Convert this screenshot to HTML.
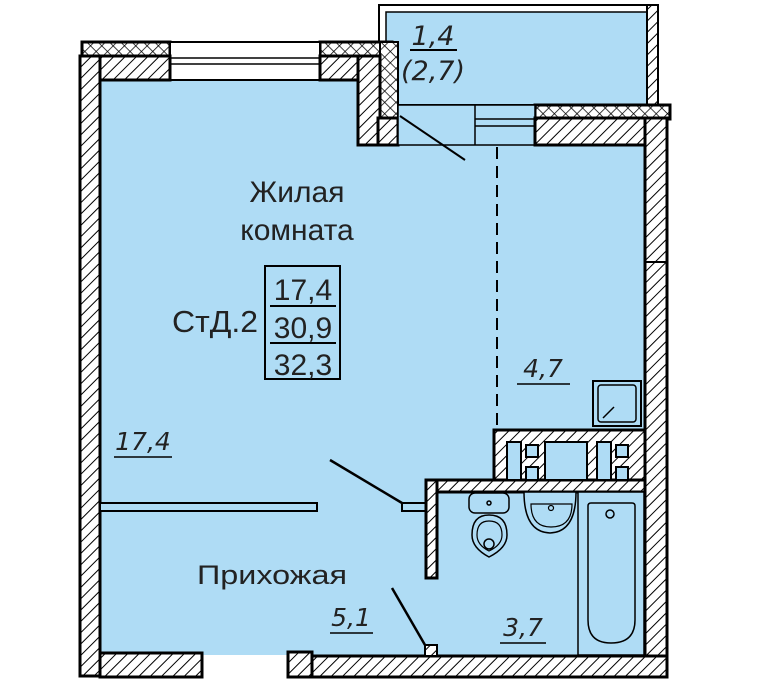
<!DOCTYPE html>
<html><head><meta charset="utf-8"><style>
html,body{margin:0;padding:0;background:#fff;}
svg{display:block;}
text{font-family:"Liberation Sans",sans-serif;fill:#222;}
.it{font-style:italic;font-family:"DejaVu Sans","Liberation Sans",sans-serif;}
</style></head><body>
<svg width="780" height="680" viewBox="0 0 780 680" xmlns="http://www.w3.org/2000/svg">
<defs>
<pattern id="h" width="8" height="8" patternUnits="userSpaceOnUse" patternTransform="rotate(45)">
<rect width="8" height="8" fill="#fff"/><line x1="0" y1="0" x2="0" y2="8" stroke="#000" stroke-width="2"/></pattern>
<pattern id="x" width="8" height="8" patternUnits="userSpaceOnUse" patternTransform="rotate(45)">
<rect width="8" height="8" fill="#fff"/><line x1="0" y1="0" x2="0" y2="8" stroke="#000" stroke-width="1.5"/><line x1="0" y1="0" x2="8" y2="0" stroke="#000" stroke-width="1.5"/></pattern>
</defs>
<g stroke="#000" stroke-width="3">
<rect x="100" y="80" width="545" height="575" fill="#afdcf5" stroke="none"/>
<rect x="386" y="12" width="262" height="133" fill="#afdcf5" stroke="none"/>
<rect x="379" y="5" width="270" height="100" fill="none" stroke-width="2"/>
<rect x="386" y="12" width="262" height="93" fill="none" stroke-width="1.5"/>
<rect x="647" y="5" width="11" height="115" fill="url(#h)" stroke-width="2"/>
<rect x="82" y="42" width="88" height="14" fill="url(#x)"/>
<rect x="320" y="42" width="72" height="14" fill="url(#x)"/>
<rect x="380" y="42" width="18" height="90" fill="url(#x)" stroke-width="2"/>
<rect x="535" y="105" width="135" height="14" fill="url(#x)"/>
<rect x="170" y="42" width="150" height="38" fill="#fff" stroke-width="2"/>
<line x1="170" y1="58" x2="320" y2="58" stroke-width="1.5"/><line x1="170" y1="64" x2="320" y2="64" stroke-width="1.5"/>
<rect x="100" y="56" width="70" height="24" fill="url(#h)"/>
<rect x="320" y="56" width="38" height="24" fill="url(#h)"/>
<rect x="358" y="56" width="22" height="89" fill="url(#h)"/>
<rect x="378" y="118" width="20" height="27" fill="url(#h)"/>
<rect x="398" y="105" width="137" height="40" fill="#afdcf5" stroke-width="1.5"/>
<line x1="475" y1="105" x2="475" y2="145" stroke-width="1.5"/>
<line x1="475" y1="119" x2="535" y2="119" stroke-width="1.5"/><line x1="475" y1="126" x2="535" y2="126" stroke-width="1.5"/>
<rect x="535" y="118" width="110" height="27" fill="url(#h)"/>
<line x1="400" y1="116" x2="465" y2="160" stroke-width="2"/>
<line x1="497" y1="147" x2="497" y2="430" stroke-width="2" stroke-dasharray="12,7"/>
<rect x="80" y="56" width="20" height="620" fill="url(#h)"/>
<rect x="645" y="118" width="22" height="544" fill="url(#h)"/>
<line x1="645" y1="262" x2="667" y2="262" stroke-width="2"/>
<rect x="100" y="653" width="102" height="24" fill="url(#h)"/>
<rect x="288" y="652" width="24" height="25" fill="url(#h)"/>
<rect x="312" y="656" width="355" height="21" fill="url(#h)"/>
<rect x="100" y="503" width="217" height="8" fill="#afdcf5" stroke-width="2"/>
<line x1="330" y1="460" x2="402" y2="503" stroke-width="2.5"/>
<rect x="402" y="503" width="24" height="8" fill="#afdcf5" stroke-width="2"/>
<line x1="392" y1="588" x2="425" y2="645" stroke-width="2.5"/>
<rect x="425" y="645" width="12" height="11" fill="url(#h)" stroke-width="2"/>
<rect x="494" y="430" width="151" height="50" fill="url(#h)"/>
<rect x="426" y="480" width="219" height="12" fill="url(#h)"/>
<rect x="426" y="480" width="11" height="98" fill="url(#h)"/>
<rect x="507" y="442" width="14" height="38" fill="#afdcf5" stroke-width="2"/>
<rect x="545" y="442" width="42" height="38" fill="#afdcf5" stroke-width="2"/>
<rect x="597" y="442" width="14" height="38" fill="#afdcf5" stroke-width="2"/>
<rect x="526" y="445" width="12" height="12" fill="#afdcf5" stroke-width="2"/>
<rect x="526" y="467" width="12" height="13" fill="#afdcf5" stroke-width="2"/>
<rect x="616" y="445" width="12" height="12" fill="#afdcf5" stroke-width="2"/>
<rect x="616" y="467" width="12" height="13" fill="#afdcf5" stroke-width="2"/>
<rect x="593" y="381" width="48" height="45" fill="#afdcf5" stroke-width="2"/>
<rect x="598" y="385" width="38" height="37" rx="3" fill="none" stroke-width="1.5"/>
<line x1="603" y1="418" x2="614" y2="407" stroke-width="1.5"/>
<rect x="469" y="493" width="40" height="20" rx="6" fill="#afdcf5" stroke-width="1.5"/>
<circle cx="489" cy="503" r="2" fill="none" stroke-width="1.5"/>
<path d="M472 535 Q472 515 489 515 Q507 515 507 535 Q507 548 489 557 Q472 548 472 535Z" fill="#afdcf5" stroke-width="1.5"/>
<path d="M477 535 Q477 521 489 521 Q502 521 502 535 Q502 545 489 551 Q477 545 477 535Z" fill="none" stroke-width="1.2"/>
<circle cx="489" cy="544" r="5" fill="none" stroke-width="1.5"/>
<path d="M524 492 L576 492 Q576 532 550 533 Q524 532 524 492Z" fill="#afdcf5" stroke-width="1.5"/>
<path d="M531 504 L572 504 Q572 527 551 527 Q531 527 531 504Z" fill="none" stroke-width="1.2"/>
<circle cx="551" cy="508" r="2.5" fill="none" stroke-width="1.2"/>
<rect x="578" y="492" width="66" height="163" fill="#afdcf5" stroke-width="1.5"/>
<path d="M588 506 Q588 503 591 503 L632 503 Q635 503 635 506 L635 620 Q635 643 611 643 Q588 643 588 620Z" fill="none" stroke-width="1.5"/>
<circle cx="610" cy="514" r="4" fill="none" stroke-width="1.5"/>
<rect x="265" y="266" width="75" height="113" fill="none" stroke-width="2"/>
<line x1="270" y1="306" x2="336" y2="306" stroke-width="2"/>
<line x1="270" y1="343" x2="336" y2="343" stroke-width="2"/>
<line x1="410" y1="50" x2="457" y2="50" stroke-width="2"/>
<line x1="517" y1="384" x2="570" y2="384" stroke-width="1.5"/>
<line x1="114" y1="457" x2="172" y2="457" stroke-width="1.5"/>
<line x1="330" y1="633" x2="373" y2="633" stroke-width="1.5"/>
<line x1="500" y1="643" x2="546" y2="643" stroke-width="1.5"/>
</g>
<g stroke="none">
<text x="297" y="202" font-size="30" text-anchor="middle">Жилая</text>
<text x="297" y="240" font-size="30" text-anchor="middle">комната</text>
<text x="172" y="332" font-size="31" textLength="86" lengthAdjust="spacingAndGlyphs">СтД.2</text>
<text x="303" y="300" font-size="30" text-anchor="middle">17,4</text>
<text x="303" y="338" font-size="30" text-anchor="middle">30,9</text>
<text x="303" y="375" font-size="30" text-anchor="middle">32,3</text>
<text x="197" y="584" font-size="27" textLength="150" lengthAdjust="spacingAndGlyphs">Прихожая</text>
<text class="it" x="433" y="45" font-size="27" text-anchor="middle">1,4</text>
<text class="it" x="433" y="80" font-size="27" text-anchor="middle">(2,7)</text>
<text class="it" x="543" y="377" font-size="25" text-anchor="middle">4,7</text>
<text class="it" x="143" y="450" font-size="25" text-anchor="middle">17,4</text>
<text class="it" x="351" y="626" font-size="25" text-anchor="middle">5,1</text>
<text class="it" x="523" y="636" font-size="25" text-anchor="middle">3,7</text>
</g>
</svg>
</body></html>
